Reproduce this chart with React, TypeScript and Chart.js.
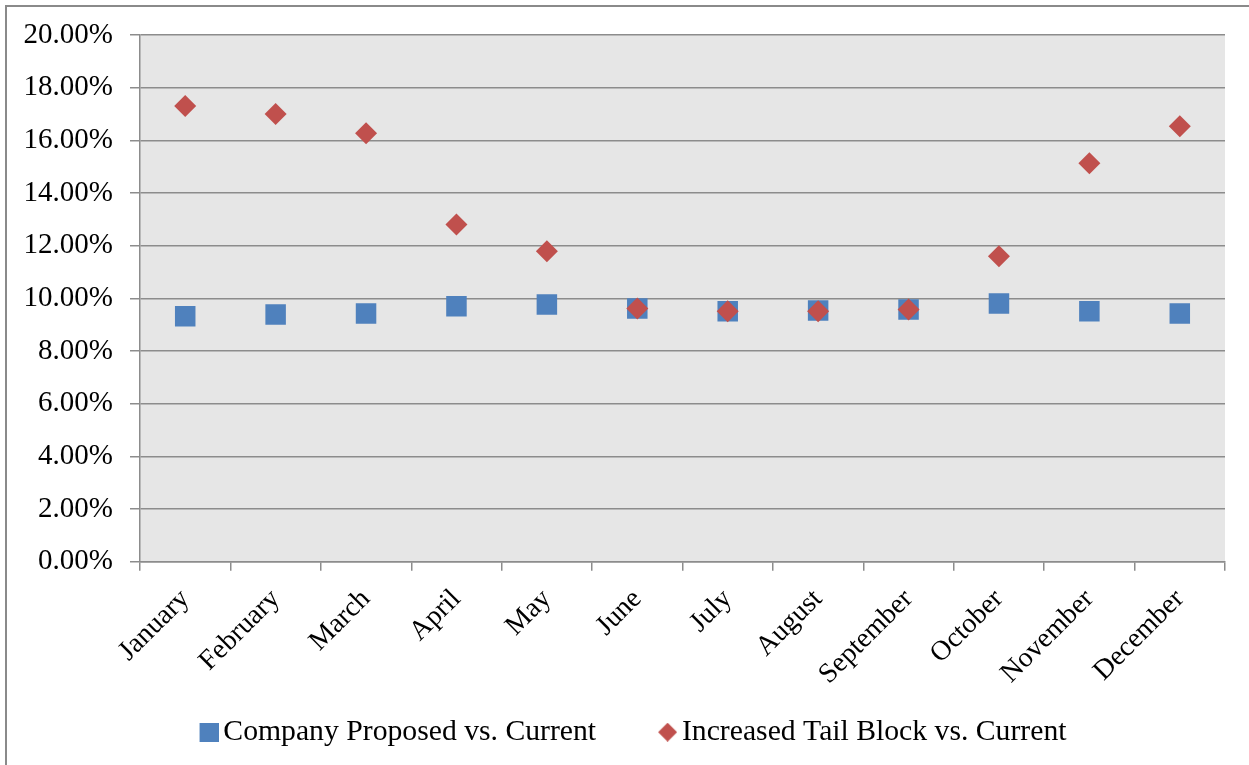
import React, { useEffect, useRef } from "react";
import { Chart, registerables } from "chart.js";

Chart.register(...registerables);

const months = ["January", "February", "March", "April", "May", "June", "July", "August", "September", "October", "November", "December"];
const companyProposed = [9.32, 9.39, 9.43, 9.70, 9.77, 9.62, 9.51, 9.54, 9.58, 9.81, 9.51, 9.43];
const increasedTail = [17.30, 17.00, 16.27, 12.81, 11.79, 9.62, 9.51, 9.51, 9.58, 11.60, 15.13, 16.54];
const seriesNames = ["Company Proposed vs. Current", "Increased Tail Block vs. Current"];
const yTicksMin = 0;
const yTicksMax = 20;
const yTickStep = 2;

const BLUE = "#4F81BD";
const RED = "#C0504D";
const GRID = "#8c8c8c";
const FONT = "'Liberation Serif', 'Times New Roman', serif";

const LEGEND_FONT = 29.7;
const LEGEND_BOX_W = 50;
const MARKER = 19;

// legend marker image: transparent on the left, marker at the right edge
function makeMarker(kind: "square" | "diamond", color: string, w: number, m: number) {
  const c = document.createElement("canvas");
  c.width = w;
  c.height = m;
  const ctx = c.getContext("2d")!;
  ctx.fillStyle = color;
  const x0 = w - m;
  if (kind === "square") {
    ctx.fillRect(x0, 0, m, m);
  } else {
    ctx.beginPath();
    ctx.moveTo(x0 + m / 2, 0);
    ctx.lineTo(x0 + m, m / 2);
    ctx.lineTo(x0 + m / 2, m);
    ctx.lineTo(x0, m / 2);
    ctx.closePath();
    ctx.fill();
  }
  return c;
}

const plotBg = {
  id: "plotBg",
  beforeDraw(chart: any) {
    const { ctx, chartArea } = chart;
    ctx.save();
    ctx.fillStyle = "#e6e6e6";
    ctx.fillRect(chartArea.left, chartArea.top, chartArea.right - chartArea.left, chartArea.bottom - chartArea.top);
    ctx.restore();
  },
};

export default function App() {
  const ref = useRef<HTMLCanvasElement | null>(null);

  useEffect(() => {
    if (!ref.current) return;
    const imgW = LEGEND_BOX_W + LEGEND_FONT - 10;
    const legendMarkers = [
      makeMarker("square", BLUE, Math.round(imgW), MARKER),
      makeMarker("diamond", RED, Math.round(imgW), MARKER),
    ];
    const chart = new Chart(ref.current, {
      type: "line",
      data: {
        labels: months,
        datasets: [
          {
            label: seriesNames[0],
            data: companyProposed,
            showLine: false,
            pointStyle: "rect",
            pointRadius: 14.5,
            pointHoverRadius: 14.5,
            pointBackgroundColor: BLUE,
            pointBorderColor: BLUE,
            pointBorderWidth: 0,
            backgroundColor: BLUE,
            borderColor: BLUE,
            order: 2,
          },
          {
            label: seriesNames[1],
            data: increasedTail,
            showLine: false,
            pointStyle: "rectRot",
            pointRadius: 11,
            pointHoverRadius: 11,
            pointBackgroundColor: RED,
            pointBorderColor: RED,
            pointBorderWidth: 0,
            backgroundColor: RED,
            borderColor: RED,
            order: 1,
          },
        ],
      },
      options: {
        responsive: false,
        animation: false,
        events: [],
        layout: { padding: { left: 0, top: 35, right: 24, bottom: 8 } },
        plugins: {
          tooltip: { enabled: false },
          legend: {
            position: "bottom",
            labels: {
              usePointStyle: true,
              boxHeight: 18,
              boxWidth: LEGEND_BOX_W,
              pointStyleWidth: LEGEND_BOX_W,
              padding: 21,
              color: "#000",
              font: { family: FONT, size: LEGEND_FONT },
              generateLabels: (ch: any) =>
                ch.data.datasets.map((ds: any, i: number) => ({
                  text: ds.label,
                  fillStyle: ds.backgroundColor,
                  strokeStyle: ds.borderColor,
                  lineWidth: 0,
                  pointStyle: legendMarkers[i],
                  hidden: false,
                  datasetIndex: i,
                  fontColor: "#000",
                })),
            },
          },
        },
        scales: {
          x: {
            type: "category",
            offset: true,
            afterFit: (s: any) => {
              s.height = 134.5;
            },
            grid: {
              display: true,
              drawOnChartArea: false,
              drawTicks: true,
              offset: true,
              tickLength: 9,
              color: GRID,
              lineWidth: 1.5,
            },
            border: { display: true, color: GRID, width: 1.5 },
            ticks: {
              autoSkip: false,
              minRotation: 45,
              maxRotation: 45,
              padding: 12,
              color: "#000",
              font: { family: FONT, size: 28 },
            },
          },
          y: {
            min: yTicksMin,
            max: yTicksMax,
            afterFit: (s: any) => {
              s.width = 140;
            },
            grid: {
              color: GRID,
              lineWidth: 1.5,
              tickLength: 10,
              drawTicks: true,
            },
            border: { display: true, color: GRID, width: 1.5 },
            ticks: {
              stepSize: yTickStep,
              padding: 17,
              color: "#000",
              font: { family: FONT, size: 29 },
              callback: (v: any) => Number(v).toFixed(2) + "%",
            },
          },
        },
      },
      plugins: [plotBg],
    });
    return () => chart.destroy();
  }, []);

  return (
    <div style={{ position: "absolute", left: 0, top: 0, width: 1249, height: 765, background: "#fff", overflow: "hidden" }}>
      <div
        style={{
          position: "absolute",
          left: 5,
          top: 5,
          width: 1260,
          height: 780,
          borderTop: "2.5px solid #8a8a8a",
          borderLeft: "2.5px solid #8a8a8a",
          boxSizing: "border-box",
        }}
      />
      <canvas ref={ref} width={1249} height={765} style={{ position: "absolute", left: 0, top: 0 }} />
    </div>
  );
}
